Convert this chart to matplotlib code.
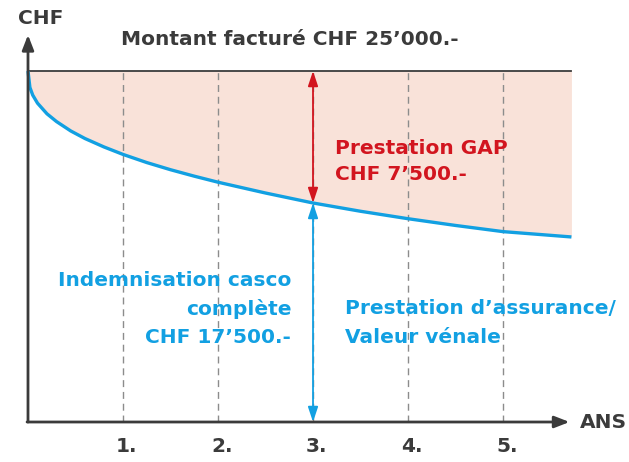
import matplotlib
matplotlib.use("Agg")
import matplotlib.pyplot as plt

# value of the vehicle over time (CHF)
years = [0, 0.02, 0.05, 0.1, 0.2, 0.3, 0.45, 0.6, 0.8, 1.0, 1.25, 1.5,
         1.75, 2.0, 2.5, 3.0, 3.5, 4.0, 4.5, 5.0, 5.72]
value = [25000, 23830, 23280, 22710, 21950, 21400, 20730, 20190, 19590,
         19060, 18480, 17970, 17510, 17080, 16310, 15600, 15010, 14480,
         14000, 13560, 13180]
invoiced = 25000
gap_year = 3
tick_years = [1, 2, 3, 4, 5]
tick_labels = ["1.", "2.", "3.", "4.", "5."]

DARK = "#3b3b3b"
RED = "#d2151f"
BLUE = "#12a0e2"
FILL = "#f9e2d9"
GRID = "#8c8c8c"

plt.rcParams["font.family"] = ["DejaVu Sans"]

fig = plt.figure(figsize=(6.29, 4.62), dpi=100)
ax = fig.add_axes([0, 0, 1, 1])
ax.set_xlim(-0.2947, 6.326)
ax.set_ylim(-2849, 30058)
ax.axis("off")

x_end = years[-1]
gap_value = value[years.index(gap_year)]

# shaded GAP area and top line
ax.fill_between(years, value, invoiced, color=FILL, lw=0, zorder=1)
ax.plot([0, x_end], [invoiced, invoiced], color=DARK, lw=1.3, zorder=3)

# dashed year lines
for yr in tick_years:
    ax.plot([yr, yr], [0, invoiced], color=GRID, lw=1.0, ls=(0, (5, 3.5)), zorder=2)

# depreciation curve
ax.plot(years, value, color=BLUE, lw=2.4, solid_capstyle="butt",
        solid_joinstyle="round", zorder=4)

# axes with arrows
arrow_kw = dict(arrowstyle="-|>,head_length=0.9,head_width=0.35", color=DARK,
                lw=2.0, shrinkA=0, shrinkB=0)
ax.annotate("", xy=(0, 27570), xytext=(0, 0), arrowprops=arrow_kw, zorder=5)
ax.annotate("", xy=(5.70, 0), xytext=(-0.01, 0), arrowprops=arrow_kw, zorder=5)

# double arrows at year 3
red_kw = dict(arrowstyle="<|-|>,head_length=0.9,head_width=0.3", color=RED,
              lw=1.3, shrinkA=0, shrinkB=0)
ax.annotate("", xy=(gap_year, invoiced), xytext=(gap_year, gap_value),
            arrowprops=red_kw, zorder=6)
blue_kw = dict(red_kw, color=BLUE)
ax.annotate("", xy=(gap_year, gap_value), xytext=(gap_year, 0),
            arrowprops=blue_kw, zorder=6)

# labels
fs = 14.5
ax.text(0.13, 28760, "CHF", color=DARK, fontsize=fs, fontweight="bold",
        ha="center", va="center")
ax.text(0.98, 27250, "Montant facturé CHF 25’000.-", color=DARK, fontsize=fs,
        fontweight="bold", ha="left", va="center")
ax.text(5.81, 0, "ANS", color=DARK, fontsize=fs, fontweight="bold",
        ha="left", va="center")
for yr, lab in zip(tick_years, tick_labels):
    ax.text(yr + 0.04, -1750, lab, color=DARK, fontsize=fs, fontweight="bold",
            ha="center", va="center")

ax.text(3.23, 18555, "Prestation GAP\nCHF 7’500.-", color=RED, fontsize=fs,
        fontweight="bold", ha="left", va="center", linespacing=1.5)
ax.text(2.77, 8050, "Indemnisation casco\ncomplète\nCHF 17’500.-", color=BLUE,
        fontsize=fs, fontweight="bold", ha="right", va="center", linespacing=1.55)
ax.text(3.34, 7050, "Prestation d’assurance/\nValeur vénale", color=BLUE,
        fontsize=fs, fontweight="bold", ha="left", va="center", linespacing=1.62)

fig.savefig("out.png", dpi=100)
